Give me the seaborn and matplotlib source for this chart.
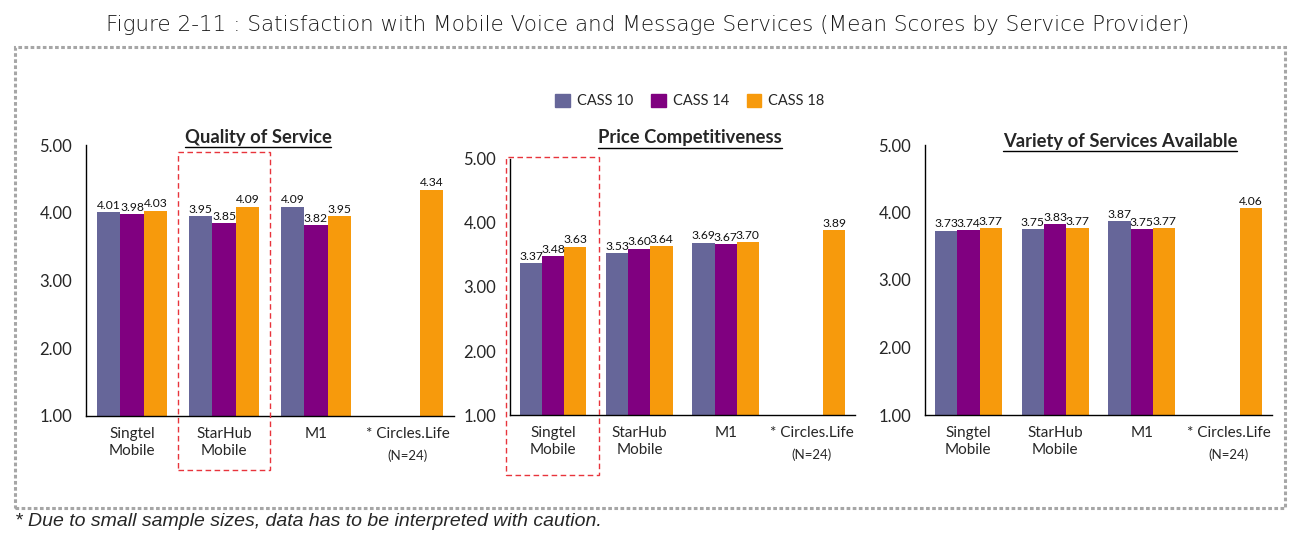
import numpy as np
import pandas as pd
import matplotlib
matplotlib.use("Agg")
import matplotlib.pyplot as plt
import matplotlib.patches as mpatches
import matplotlib.transforms as mtransforms
from matplotlib.lines import Line2D
import seaborn as sns

# ---- data ----
providers = ["Singtel\nMobile", "StarHub\nMobile", "M1", "* Circles.Life"]
surveys = ["CASS 10", "CASS 14", "CASS 18"]

quality_cass10 = [4.01, 3.95, 4.09, np.nan]
quality_cass14 = [3.98, 3.85, 3.82, np.nan]
quality_cass18 = [4.03, 4.09, 3.95, 4.34]

price_cass10 = [3.37, 3.53, 3.69, np.nan]
price_cass14 = [3.48, 3.60, 3.67, np.nan]
price_cass18 = [3.63, 3.64, 3.70, 3.89]

variety_cass10 = [3.73, 3.75, 3.87, np.nan]
variety_cass14 = [3.74, 3.83, 3.75, np.nan]
variety_cass18 = [3.77, 3.77, 3.77, 4.06]

panel_titles = ["Quality of Service", "Price Competitiveness", "Variety of Services Available"]
y_ticks = [1, 2, 3, 4, 5]

colors = ["#666699", "#800080", "#F79A0C"]


def long_table(v10, v14, v18):
    rows = []
    for s, vals in zip(surveys, [v10, v14, v18]):
        for p, v in zip(providers, vals):
            rows.append({"provider": p, "survey": s, "score": v})
    return pd.DataFrame(rows).dropna()


tables = [
    long_table(quality_cass10, quality_cass14, quality_cass18),
    long_table(price_cass10, price_cass14, price_cass18),
    long_table(variety_cass10, variety_cass14, variety_cass18),
]

# ---- figure ----
sns.set_style("white")
plt.rcParams["font.family"] = ["Lato", "DejaVu Sans"]

W, H = 1303, 539
fig = plt.figure(figsize=(W / 100, H / 100), dpi=100)


def box(l, r, t, b):
    return [l / W, 1 - b / H, (r - l) / W, (b - t) / H]


axes = [
    fig.add_axes(box(86, 454, 145, 416)),
    fig.add_axes(box(510, 855, 159, 415)),
    fig.add_axes(box(925, 1272, 145, 415)),
]

for ax, df in zip(axes, tables):
    sns.barplot(data=df, x="provider", y="score", hue="survey",
                order=providers, hue_order=surveys, palette=colors, saturation=1,
                width=0.77, linewidth=0, errorbar=None, legend=False, ax=ax)
    for c in ax.containers:
        ax.bar_label(c, fmt="%.2f", padding=1, fontsize=8.7, color="#111111")
    ax.set_ylim(1, 5)
    ax.set_xlim(-0.5, 3.5)
    ax.set_yticks(y_ticks)
    ax.set_yticklabels([f"{v:.2f}" for v in y_ticks], fontsize=12)
    ax.set_xticks(range(len(providers)))
    ax.set_xticklabels(providers, fontsize=11, linespacing=1.3)
    ax.set_xticks(np.arange(-0.5, 4, 1), minor=True)
    ax.tick_params(axis="x", which="major", length=0, pad=8)
    ax.tick_params(axis="x", which="minor", length=5, width=1, color="black", direction="out")
    ax.tick_params(axis="y", length=4, width=1, color="black", direction="out", pad=6)
    ax.set_xlabel("")
    ax.set_ylabel("")
    sns.despine(ax=ax)
    for s in ["left", "bottom"]:
        ax.spines[s].set_color("black")
        ax.spines[s].set_linewidth(1)
    # sample-size note under the last category
    ax.annotate("(N=24)", xy=(3, 0), xycoords=mtransforms.blended_transform_factory(ax.transData, ax.transAxes),
                xytext=(0, -24), textcoords="offset points", ha="center", va="top", fontsize=9.5)

# panel titles (bold, underlined)
title_pos = [(258, 137), (690, 138), (1120, 142)]
title_texts = []
for (x, y), t in zip(title_pos, panel_titles):
    title_texts.append(fig.text(x / W, 1 - y / H, t, ha="center", va="center",
                                fontsize=13.2, fontweight="bold"))

# highlight boxes
for ax, (x0, x1), (y0, y1) in [(axes[0], (0.5, 1.5), (-0.199, 0.974)),
                               (axes[1], (-0.55, 0.53), (-0.234, 1.008))]:
    tr = mtransforms.blended_transform_factory(ax.transData, ax.transAxes)
    ax.add_patch(mpatches.Rectangle((x0, y0), x1 - x0, y1 - y0, transform=tr, fill=False,
                                    edgecolor="#E8343C", linewidth=1, linestyle=(0, (4, 2.5)),
                                    clip_on=False, zorder=5))

# legend
handles = [mpatches.Patch(color=c, label=s) for c, s in zip(colors, surveys)]
fig.legend(handles=handles, loc="center", bbox_to_anchor=(690 / W, 1 - 101 / H), ncol=3,
           frameon=False, fontsize=10.5, handlelength=1.0, handleheight=1.0,
           handletextpad=0.5, columnspacing=1.2)

# outer dotted frame
fig.add_artist(mpatches.Rectangle((15 / W, 1 - 508 / H), 1270 / W, 461 / H,
                                  transform=fig.transFigure, fill=False,
                                  edgecolor="#A6A6A6", linewidth=2.2, linestyle=(0, (1.2, 0.8))))

fig.text(648 / W, 1 - 25 / H,
         "Figure 2-11 : Satisfaction with Mobile Voice and Message Services (Mean Scores by Service Provider)",
         ha="center", va="center", fontsize=15.5, color="#1a1a1a",
         family=["DejaVu Sans"], fontweight="light")
fig.text(15 / W, 1 - 521 / H, "* Due to small sample sizes, data has to be interpreted with caution.",
         ha="left", va="center", fontsize=14, style="italic", family=["Liberation Sans"])

# underline the panel titles
fig.canvas.draw()
r = fig.canvas.get_renderer()
for t in title_texts:
    bb = t.get_window_extent(r)
    yy = (bb.y0 - 1) / H
    fig.add_artist(Line2D([bb.x0 / W, bb.x1 / W], [yy, yy], transform=fig.transFigure,
                          color="black", linewidth=1))

fig.savefig("out.png", dpi=100, facecolor="white")
